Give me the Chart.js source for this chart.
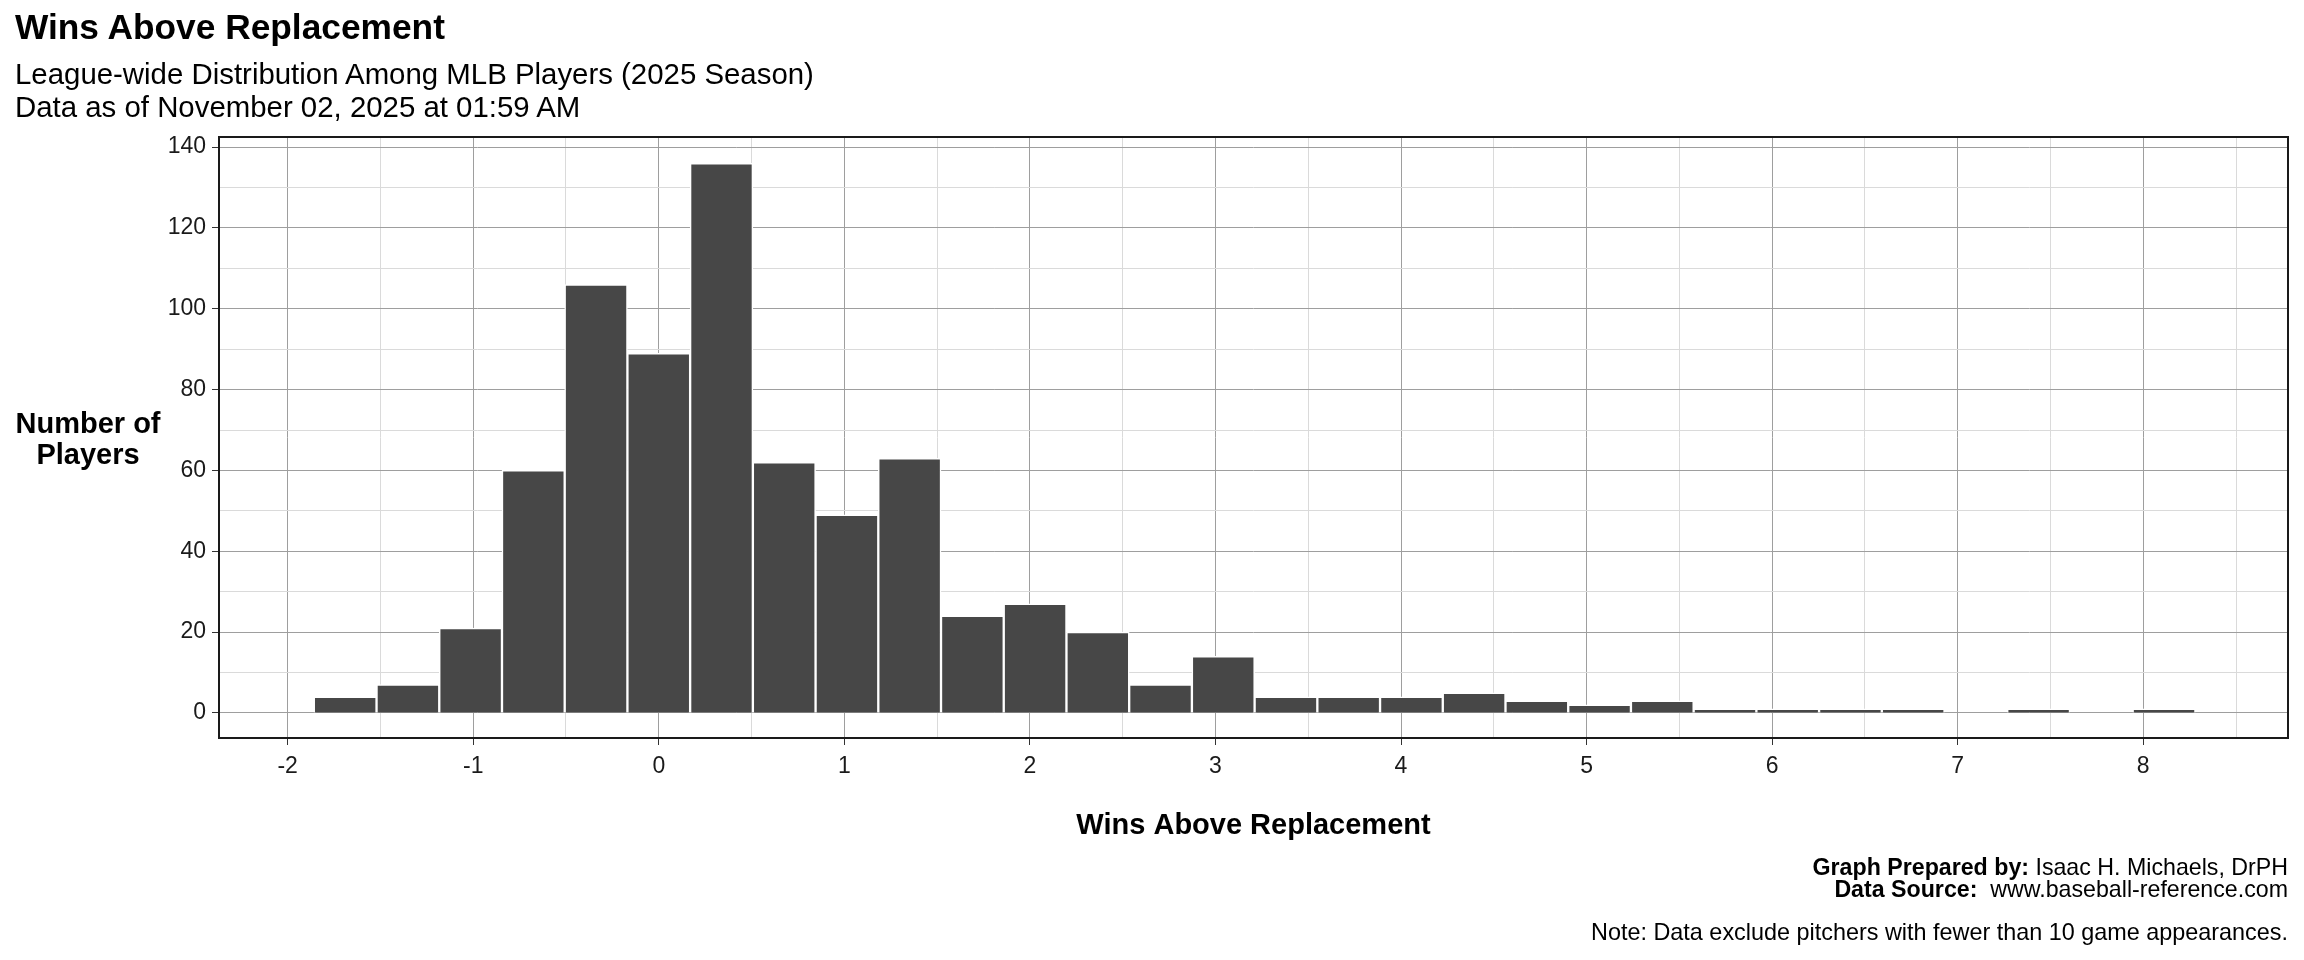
<!DOCTYPE html>
<html>
<head>
<meta charset="utf-8">
<title>Wins Above Replacement</title>
<script src="https://cdn.jsdelivr.net/npm/chart.js@4.4.0/dist/chart.umd.min.js"></script>
<style>
  body { margin: 0; background: #fff; font-family: "Liberation Sans", Arial, sans-serif; color: #000; }
  #wrap { position: relative; width: 2304px; height: 960px; overflow: hidden; }
  #war-chart { position: absolute; left: 0; top: 0; }
  .txt { position: absolute; white-space: pre; }
  #title { left: 15px; top: 9px; font-size: 35.3px; line-height: 35px; font-weight: bold; }
  #subtitle { left: 15px; top: 57px; font-size: 29.4px; line-height: 33px; }
  #y-title { left: 0; top: 408px; width: 176px; text-align: center; font-size: 29px; line-height: 31px; font-weight: bold; }
  #credits { right: 16px; top: 856px; text-align: right; font-size: 23.2px; line-height: 22px; }
  #note { right: 16px; top: 921px; font-size: 23.4px; line-height: 22px; }
</style>
</head>
<body>
<div id="wrap">
  <canvas id="war-chart" width="2304" height="960"></canvas>
  <div id="title" class="txt">Wins Above Replacement</div>
  <div id="subtitle" class="txt">League-wide Distribution Among MLB Players (2025 Season)
Data as of November 02, 2025 at 01:59 AM</div>
  <div id="y-title" class="txt">Number of
Players</div>
  <div id="credits" class="txt"><b>Graph Prepared by:</b> Isaac H. Michaels, DrPH
<b>Data Source:</b>  www.baseball-reference.com</div>
  <div id="note" class="txt">Note: Data exclude pitchers with fewer than 10 game appearances.</div>
</div>
<script>
"use strict";

// histogram bins (30 bins, width ~0.338 WAR), midpoints
const binMid = [
  -1.690, -1.352, -1.014, -0.676, -0.338, 0.000, 0.338, 0.676, 1.014, 1.352,
  1.690, 2.028, 2.366, 2.704, 3.042, 3.380, 3.718, 4.056, 4.394, 4.732,
  5.070, 5.408, 5.746, 6.084, 6.422, 6.760, 7.098, 7.436, 7.774, 8.112
];
const playerCounts = [
  4, 7, 21, 60, 106, 89, 136, 62, 49, 63,
  24, 27, 20, 7, 14, 4, 4, 4, 5, 3,
  2, 3, 1, 1, 1, 1, 0, 1, 0, 1
];

// axis ranges
const xMin = -2.37;
const xMax = 8.78;
const yMin = -6.2;
const yMax = 142.5;

const fontFamily = "'Liberation Sans', Arial, sans-serif";
const majorGrid = "#9e9e9e";
const minorGrid = "#dadada";

function isWhole(v) {
  return Math.abs(v - Math.round(v)) < 1e-6;
}

// draws the black frame round the plot panel
const panelBorder = {
  id: "panelBorder",
  afterDraw(chart) {
    const a = chart.chartArea;
    const c = chart.ctx;
    c.save();
    c.strokeStyle = "#1a1a1a";
    c.lineWidth = 2;
    c.strokeRect(a.left, a.top, a.right - a.left, a.bottom - a.top);
    c.restore();
  }
};

function renderChart(canvasId) {
  const ctx = document.getElementById(canvasId).getContext("2d");
  return new Chart(ctx, {
    type: "bar",
    data: {
      datasets: [
        {
          data: binMid.map((x, i) => ({ x: x, y: playerCounts[i] })),
          backgroundColor: "#474747",
          borderColor: "#ffffff",
          borderWidth: 1.5,
          barPercentage: 1,
          categoryPercentage: 1,
        },
      ],
    },
    options: {
      responsive: false,
      animation: false,
      devicePixelRatio: 1,
      layout: { padding: { left: 119, right: 16, top: 137, bottom: 112 } },
      plugins: {
        legend: { display: false },
        tooltip: { enabled: false },
      },
      scales: {
        x: {
          type: "linear",
          min: xMin,
          max: xMax,
          offset: false,
          border: { display: false },
          grid: {
            offset: false,
            lineWidth: 1,
            tickLength: 7,
            color: (c) => (c.tick && isWhole(c.tick.value) ? majorGrid : minorGrid),
            tickColor: (c) => (c.tick && isWhole(c.tick.value) ? "#333333" : "rgba(0,0,0,0)"),
          },
          ticks: {
            stepSize: 0.5,
            includeBounds: false,
            autoSkip: false,
            maxRotation: 0,
            padding: 8,
            color: "#1a1a1a",
            font: { family: fontFamily, size: 23 },
            callback: (v) => (isWhole(v) ? String(Math.round(v)) : ""),
          },
          title: {
            display: true,
            text: "Wins Above Replacement",
            color: "#000",
            font: { family: fontFamily, size: 29, weight: "bold" },
            padding: { top: 0, bottom: 5 },
          },
          afterFit: (s) => { s.height = 110; },
        },
        y: {
          min: yMin,
          max: yMax,
          border: { display: false },
          grid: {
            lineWidth: 1,
            tickLength: 7,
            color: (c) => (c.tick && c.tick.value % 20 === 0 ? majorGrid : minorGrid),
            tickColor: (c) => (c.tick && c.tick.value % 20 === 0 ? "#333333" : "rgba(0,0,0,0)"),
          },
          ticks: {
            stepSize: 10,
            includeBounds: false,
            padding: 6,
            color: "#1a1a1a",
            font: { family: fontFamily, size: 23 },
            callback: (v) => (v % 20 === 0 ? String(v) : ""),
          },
          afterFit: (s) => { s.width = 100; },
        },
      },
    },
    plugins: [panelBorder],
  });
}

const warChart = renderChart("war-chart");
</script>
</body>
</html>
